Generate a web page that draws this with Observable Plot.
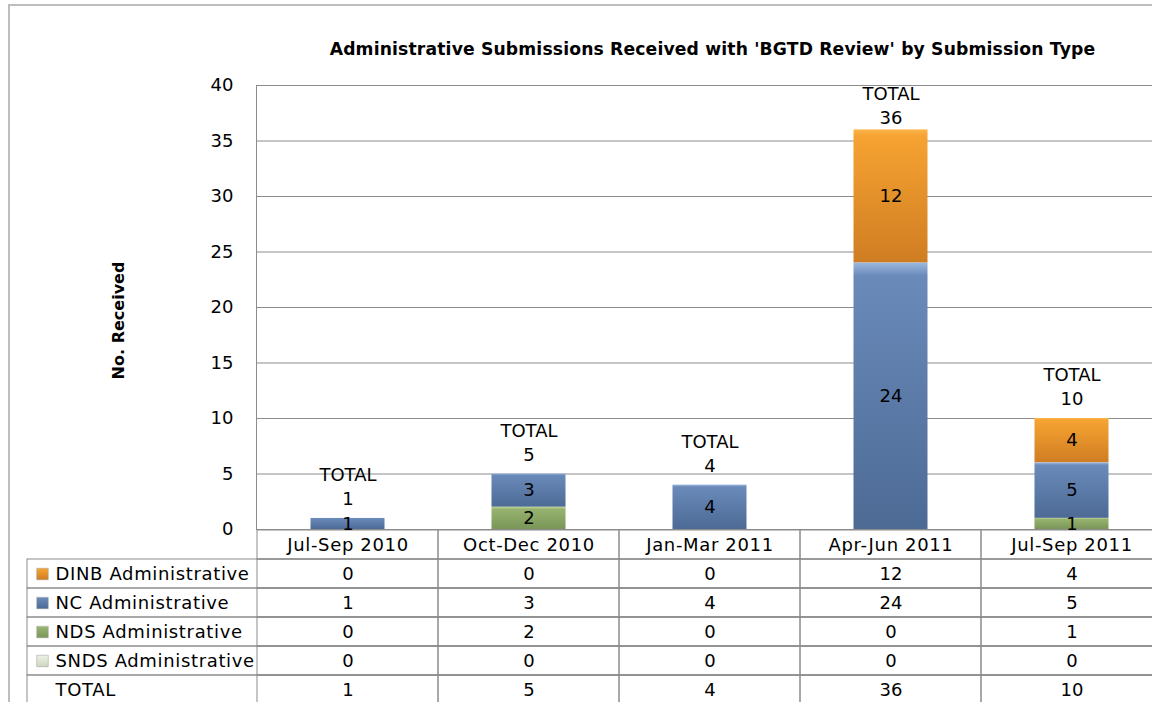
<!DOCTYPE html>
<html>
<head>
<meta charset="utf-8">
<script src="https://cdn.jsdelivr.net/npm/d3@7"></script>
<script src="https://cdn.jsdelivr.net/npm/@observablehq/plot@0.6"></script>
<style>
  html, body { margin: 0; padding: 0; background: #fff; overflow: hidden; }
  #wrap { position: relative; width: 1152px; height: 702px; overflow: hidden; background: #fff; }
  #border { position: absolute; left: 8px; top: 4px; width: 1300px; height: 900px; border: 2px solid #bdbdbd; box-sizing: border-box; }
  #chart, #table { position: absolute; left: 0; }
  #chart { top: 0; z-index: 2; }
  #table { top: 529px; z-index: 1; }
  #defs { position: absolute; width: 0; height: 0; }
  .wide text { letter-spacing: 0.65px; }
  .title text { letter-spacing: 0.15px; }
</style>
</head>
<body>
<div id="wrap">
  <div id="border"></div>
  <svg id="defs" width="0" height="0">
    <defs>
      <linearGradient id="gDINB" x1="0" y1="0" x2="0" y2="1">
        <stop offset="0" stop-color="#fbb64c"/>
        <stop offset="0.05" stop-color="#f6a332"/>
        <stop offset="1" stop-color="#cf7d22"/>
      </linearGradient>
      <linearGradient id="gNC" x1="0" y1="0" x2="0" y2="1">
        <stop offset="0" stop-color="#9cb8de"/>
        <stop offset="0.05" stop-color="#6a8aba"/>
        <stop offset="1" stop-color="#4c6a94"/>
      </linearGradient>
      <linearGradient id="gNDS" x1="0" y1="0" x2="0" y2="1">
        <stop offset="0" stop-color="#c3d89e"/>
        <stop offset="0.1" stop-color="#98b36f"/>
        <stop offset="1" stop-color="#7a9658"/>
      </linearGradient>
      <linearGradient id="gSNDS" x1="0" y1="0" x2="0" y2="1">
        <stop offset="0" stop-color="#eef2e6"/>
        <stop offset="1" stop-color="#cdd6bf"/>
      </linearGradient>
    </defs>
  </svg>
  <div id="chart"></div>
  <div id="table"></div>
</div>
<script>
// ---- data ----
const categories = ["Jul-Sep 2010", "Oct-Dec 2010", "Jan-Mar 2011", "Apr-Jun 2011", "Jul-Sep 2011"];
const seriesNames = ["DINB Administrative", "NC Administrative", "NDS Administrative", "SNDS Administrative"];
const dinbValues = [0, 0, 0, 12, 4];
const ncValues   = [1, 3, 4, 24, 5];
const ndsValues  = [0, 2, 0, 0, 1];
const sndsValues = [0, 0, 0, 0, 0];
const totalValues = [1, 5, 4, 36, 10];
const yTicks = [0, 5, 10, 15, 20, 25, 30, 35, 40];
const totalLabel = "TOTAL";
const titleText = "Administrative Submissions Received with 'BGTD Review' by Submission Type";
const yTitle = "No. Received";

// ---- derived tables ----
const seriesValues = [dinbValues, ncValues, ndsValues, sndsValues];
const rows = [];
seriesNames.forEach((s, si) => categories.forEach((c, ci) => rows.push({series: s, cat: c, value: seriesValues[si][ci]})));
const totals = categories.map((c, i) => ({cat: c, total: totalValues[i]}));
const stackOrder = ["SNDS Administrative", "NDS Administrative", "NC Administrative", "DINB Administrative"];
const fills = ["url(#gDINB)", "url(#gNC)", "url(#gNDS)", "url(#gSNDS)"];
const HEADER = "__header__";
const rowKeys = [HEADER, ...seriesNames, totalLabel];
const lineColor = "#8c8c8c";
const font = "DejaVu Sans";

const bandInset = 53.5;

const chart = Plot.plot({
  width: 1162, height: 529,
  marginTop: 85, marginLeft: 256, marginRight: 0, marginBottom: 0,
  style: {fontFamily: font, fontSize: "18px", color: "#000", background: "none", maxWidth: "none", overflow: "visible"},
  x: {domain: categories, axis: null, padding: 0},
  y: {domain: [0, 40], axis: null},
  color: {domain: seriesNames, range: fills},
  marks: [
    Plot.gridY(yTicks, {stroke: lineColor, strokeOpacity: 1}),
    Plot.frame({stroke: lineColor}),
    Plot.axisY(yTicks, {tickSize: 0, tickPadding: 23, fontSize: 18, label: null}),
    Plot.barY(rows, {x: "cat", y: "value", fill: "series", order: stackOrder, insetLeft: bandInset, insetRight: bandInset}),
    Plot.text(rows, Plot.stackY({filter: d => d.value > 0, x: "cat", y: "value", z: "series", order: stackOrder, text: "value", fontSize: 18, fill: "#000"})),
    Plot.text(totals, {x: "cat", y: d => Math.min(d.total, 35.3), text: d => `${totalLabel}\n${d.total}`, dy: -33, lineHeight: 1.33, fontSize: 18, fill: "#000"}),
    Plot.text([titleText], {frameAnchor: "top", dx: 3, dy: -43, fontWeight: "bold", fontSize: 17.2, fill: "#000", className: "title"}),
    Plot.text([yTitle], {frameAnchor: "left", textAnchor: "middle", dx: -138, dy: 13, rotate: -90, fontWeight: "bold", fontSize: 16, fill: "#000"})
  ]
});
document.getElementById("chart").append(chart);

const valueCells = rows.map(d => ({row: d.series, cat: d.cat, text: String(d.value)}))
  .concat(totals.map(d => ({row: totalLabel, cat: d.cat, text: String(d.total)})));
const headerCells = categories.map(c => ({row: HEADER, cat: c, text: c}));
const bodyRows = [...seriesNames, totalLabel];

const table = Plot.plot({
  width: 1162, height: 175,
  marginTop: 0, marginBottom: 0, marginLeft: 27, marginRight: 0,
  style: {fontFamily: font, fontSize: "18px", color: "#000", background: "none", maxWidth: "none"},
  x: {domain: categories, range: [256, 1162], padding: 0, axis: null},
  y: {domain: rowKeys, padding: 0, axis: null},
  color: {domain: seriesNames, range: fills},
  marks: [
    Plot.cell(bodyRows, {y: d => d, fill: "none", stroke: lineColor}),
    Plot.cell(headerCells.concat(valueCells), {x: "cat", y: "row", fill: "none", stroke: lineColor}),
    Plot.text(headerCells, {x: "cat", y: "row", text: "text", fontSize: 18, fill: "#000", className: "wide"}),
    Plot.text(valueCells, {x: "cat", y: "row", text: "text", fontSize: 18, fill: "#000"}),
    Plot.dot(seriesNames, {y: d => d, frameAnchor: "left", dx: 15, symbol: "square", r: 6.5, fill: d => d, stroke: "#999", strokeWidth: 0.5}),
    Plot.text(bodyRows, {y: d => d, frameAnchor: "left", dx: 28, textAnchor: "start", text: d => d, fontSize: 18, fill: "#000", className: "wide"})
  ]
});
document.getElementById("table").append(table);
</script>
</body>
</html>
